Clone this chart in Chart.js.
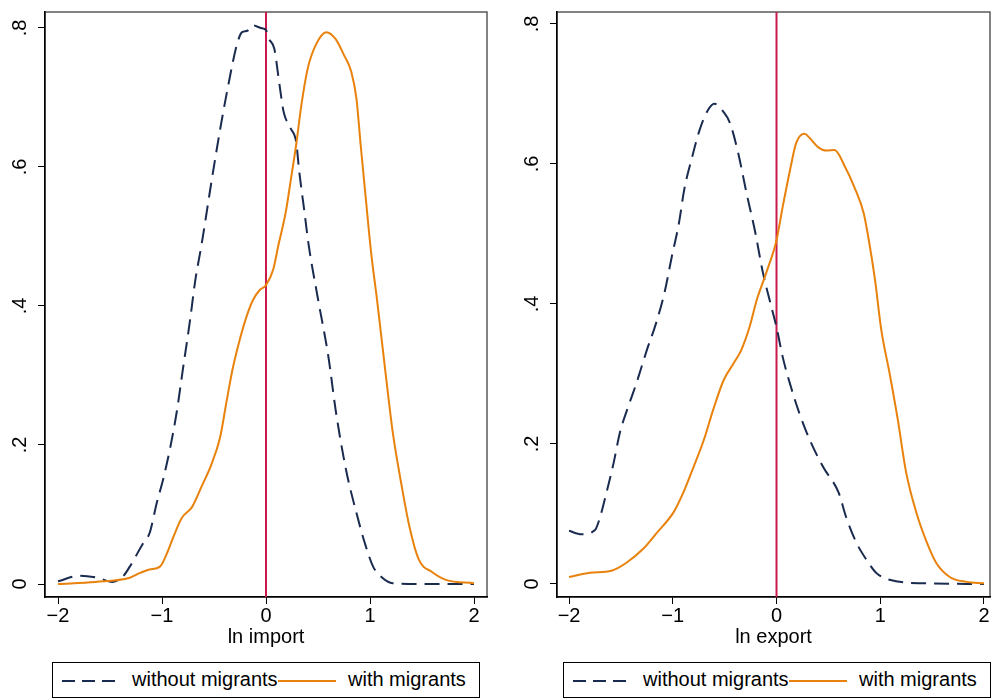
<!DOCTYPE html>
<html>
<head>
<meta charset="utf-8">
<script src="https://cdn.jsdelivr.net/npm/chart.js@4.4.1/dist/chart.umd.min.js"></script>
<style>
  body { margin: 0; background: #fff; font-family: "Liberation Sans", Arial, sans-serif; }
  #wrap { position: relative; width: 997px; height: 700px; overflow: hidden; }
  canvas { position: absolute; top: 0; }
  .legend { position: absolute; top: 662px; width: 428px; height: 36px; border: 1.5px solid #000; box-sizing: border-box; font-size: 20px; color: #000; }
  .legend svg { position: absolute; top: 0; left: 0; }
  .legend span { position: absolute; top: 5px; white-space: nowrap; }
</style>
</head>
<body>
<div id="wrap">
  <canvas id="imp" width="497" height="650" style="left:0"></canvas>
  <canvas id="exp" width="487" height="650" style="left:510px"></canvas>
  <div class="legend" id="legImp" style="left:52px"></div>
  <div class="legend" id="legExp" style="left:563px"></div>
</div>
<script>
// --- data ---
const seriesNames = ['without migrants', 'with migrants'];
const xTicks = [-2, -1, 0, 1, 2];
const yTicks = [0, 0.2, 0.4, 0.6, 0.8];
const refLineX = 0;

// ln import
const importWithoutX = [-2, -1.79, -1.62, -1.48, -1.38, -1.31, -1.18, -1.12, -1.05, -0.99, -0.92, -0.86, -0.80, -0.73, -0.68, -0.62, -0.52, -0.44, -0.37, -0.28, -0.23, -0.18, -0.13, -0.05, 0, 0.03, 0.08, 0.13, 0.17, 0.24, 0.29, 0.32, 0.37, 0.41, 0.5, 0.6, 0.67, 0.77, 0.87, 0.95, 1.03, 1.11, 1.22, 1.5, 2.0];
const importWithoutY = [0.004, 0.012, 0.009, 0.003, 0.01, 0.025, 0.059, 0.073, 0.117, 0.15, 0.197, 0.246, 0.308, 0.38, 0.437, 0.488, 0.583, 0.655, 0.712, 0.776, 0.794, 0.796, 0.804, 0.80, 0.797, 0.784, 0.77, 0.718, 0.679, 0.655, 0.636, 0.593, 0.535, 0.488, 0.41, 0.327, 0.25, 0.164, 0.102, 0.059, 0.025, 0.01, 0.001, 0, 0];
const importWithX = [-2, -1.64, -1.31, -1.21, -1.12, -1.02, -0.95, -0.89, -0.81, -0.71, -0.62, -0.52, -0.44, -0.38, -0.32, -0.25, -0.18, -0.12, -0.06, 0, 0.07, 0.12, 0.19, 0.24, 0.29, 0.34, 0.40, 0.48, 0.58, 0.67, 0.75, 0.82, 0.87, 0.91, 0.96, 1.01, 1.07, 1.15, 1.22, 1.30, 1.38, 1.47, 1.6, 1.73, 2.0];
const importWithY = [0, 0.003, 0.009, 0.016, 0.021, 0.025, 0.045, 0.068, 0.095, 0.111, 0.14, 0.174, 0.212, 0.262, 0.31, 0.353, 0.388, 0.41, 0.423, 0.43, 0.453, 0.488, 0.535, 0.583, 0.632, 0.689, 0.741, 0.776, 0.794, 0.784, 0.761, 0.737, 0.698, 0.632, 0.554, 0.478, 0.406, 0.303, 0.217, 0.145, 0.082, 0.035, 0.017, 0.006, 0.001];

// ln export
const exportWithoutX = [-2, -1.88, -1.75, -1.71, -1.64, -1.57, -1.51, -1.43, -1.35, -1.25, -1.16, -1.08, -1.01, -0.94, -0.89, -0.82, -0.74, -0.66, -0.60, -0.51, -0.45, -0.37, -0.29, -0.21, -0.13, -0.05, 0, 0.06, 0.14, 0.22, 0.32, 0.45, 0.60, 0.67, 0.77, 0.87, 0.96, 1.09, 1.42, 2.0];
const exportWithoutY = [0.076, 0.071, 0.077, 0.091, 0.13, 0.173, 0.216, 0.253, 0.287, 0.334, 0.373, 0.416, 0.467, 0.516, 0.563, 0.606, 0.649, 0.677, 0.686, 0.674, 0.659, 0.616, 0.559, 0.506, 0.444, 0.396, 0.367, 0.324, 0.281, 0.244, 0.206, 0.167, 0.13, 0.096, 0.059, 0.034, 0.016, 0.006, 0.001, 0];
const exportWithX = [-2, -1.8, -1.59, -1.45, -1.28, -1.16, -0.99, -0.90, -0.80, -0.70, -0.61, -0.51, -0.41, -0.34, -0.26, -0.19, -0.10, 0, 0.06, 0.13, 0.19, 0.27, 0.32, 0.40, 0.48, 0.56, 0.66, 0.75, 0.84, 0.89, 0.95, 1.01, 1.09, 1.17, 1.25, 1.35, 1.45, 1.54, 1.67, 1.83, 2.0];
const exportWithY = [0.01, 0.016, 0.019, 0.03, 0.051, 0.072, 0.103, 0.13, 0.167, 0.206, 0.249, 0.291, 0.316, 0.334, 0.367, 0.406, 0.444, 0.491, 0.539, 0.591, 0.63, 0.643, 0.637, 0.624, 0.619, 0.62, 0.596, 0.567, 0.53, 0.491, 0.434, 0.363, 0.301, 0.234, 0.159, 0.101, 0.059, 0.03, 0.01, 0.003, 0.001];

// --- styling ---
const NAVY = '#1a2b50';
const ORANGE = '#e8820c';
const RED = '#c91a4b';
const DASH = [15, 8];
const FONT = '"Liberation Sans", Arial, sans-serif';

Chart.defaults.font.family = FONT;
Chart.defaults.color = '#000';

const toPoints = (xs, ys) => xs.map((x, i) => ({x: x, y: ys[i]}));
const fmtY = v => v === 0 ? '0' : String(Math.round(v * 10) / 10).replace(/^0\./, '.');
const fmtX = v => v < 0 ? '\u2212' + Math.abs(v) : String(v);

// frame, reference line and rotated y labels
const framePlugin = {
  id: 'frame',
  beforeDraw(chart) {
    const {ctx, chartArea: a} = chart;
    ctx.save();
    ctx.strokeStyle = '#5a5a5a';
    ctx.lineWidth = 1.5;
    ctx.strokeRect(a.left, a.top, a.right - a.left, a.bottom - a.top);
    ctx.restore();
  },
  beforeDatasetsDraw(chart) {
    const {ctx, chartArea: a, scales} = chart;
    const px = scales.x.getPixelForValue(refLineX);
    ctx.save();
    ctx.strokeStyle = RED;
    ctx.lineWidth = 2;
    ctx.beginPath();
    ctx.moveTo(px, a.top);
    ctx.lineTo(px, a.bottom);
    ctx.stroke();
    ctx.restore();
  },
  afterDraw(chart) {
    const {ctx, scales} = chart;
    const ys = scales.y;
    ctx.save();
    ctx.fillStyle = '#000';
    ctx.font = '20px ' + FONT;
    ctx.textAlign = 'center';
    ctx.textBaseline = 'middle';
    ys.ticks.forEach(t => {
      const py = ys.getPixelForValue(t.value);
      ctx.save();
      ctx.translate(ys.right - 25, py);
      ctx.rotate(-Math.PI / 2);
      ctx.fillText(fmtY(t.value), 0, 0);
      ctx.restore();
    });
    ctx.restore();
  }
};

function makePanel(id, title, wX, wY, mX, mY, xr, yr, axisW, padRight) {
  return new Chart(document.getElementById(id), {
    type: 'line',
    data: {
      datasets: [
        {label: seriesNames[0], data: toPoints(wX, wY), borderColor: NAVY, borderWidth: 2,
         borderDash: DASH, pointRadius: 0, cubicInterpolationMode: 'monotone', fill: false, order: 1},
        {label: seriesNames[1], data: toPoints(mX, mY), borderColor: ORANGE, borderWidth: 2,
         pointRadius: 0, cubicInterpolationMode: 'monotone', fill: false, order: 0}
      ]
    },
    options: {
      responsive: false,
      animation: false,
      devicePixelRatio: 1,
      layout: {padding: {top: 12, right: padRight, left: 0, bottom: 0}},
      plugins: {legend: {display: false}, tooltip: {enabled: false}},
      scales: {
        x: {
          type: 'linear', min: xr[0], max: xr[1],
          afterBuildTicks: s => { s.ticks = xTicks.map(v => ({value: v})); },
          afterFit: s => { s.height = 53; },
          grid: {drawOnChartArea: false, drawTicks: true, tickLength: 7, color: '#000', lineWidth: 1},
          border: {color: '#000', width: 1.5},
          ticks: {padding: 0, font: {size: 20}, color: '#000', maxRotation: 0, callback: v => fmtX(v)},
          title: {display: true, text: title, font: {size: 20}, color: '#000', padding: {top: 0, bottom: 1}}
        },
        y: {
          type: 'linear', min: yr[0], max: yr[1],
          afterBuildTicks: s => { s.ticks = yTicks.map(v => ({value: v})); },
          afterFit: s => { s.width = axisW; },
          grid: {drawOnChartArea: false, drawTicks: true, tickLength: 7, color: '#000', lineWidth: 1},
          border: {color: '#000', width: 1.5},
          ticks: {display: false}
        }
      }
    },
    plugins: [framePlugin]
  });
}

makePanel('imp', 'ln import', importWithoutX, importWithoutY, importWithX, importWithY,
          [-2.125, 2.125], [-0.0187, 0.823], 45, 10);
makePanel('exp', 'ln export', exportWithoutX, exportWithoutY, exportWithX, exportWithY,
          [-2.116, 2.058], [-0.0186, 0.817], 47, 7);

// legends below each panel
function buildLegend(id) {
  const el = document.getElementById(id);
  el.innerHTML =
    '<svg width="428" height="36">' +
    '<line x1="9" y1="18" x2="66" y2="18" stroke="' + NAVY + '" stroke-width="2" stroke-dasharray="13,7"/>' +
    '<line x1="225" y1="18" x2="283" y2="18" stroke="' + ORANGE + '" stroke-width="2"/>' +
    '</svg>' +
    '<span style="left:79px">' + seriesNames[0] + '</span>' +
    '<span style="left:295px">' + seriesNames[1] + '</span>';
}
buildLegend('legImp');
buildLegend('legExp');
</script>
</body>
</html>
